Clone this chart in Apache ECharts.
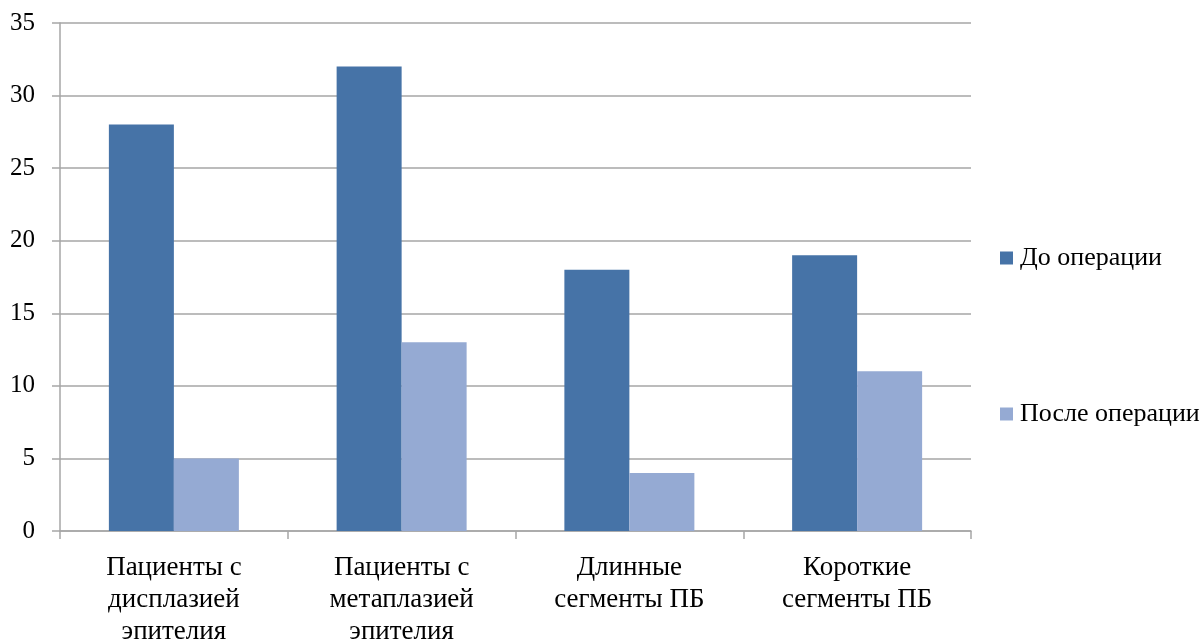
<!DOCTYPE html>
<html>
<head>
<meta charset="utf-8">
<style>
  html, body { margin: 0; padding: 0; background: #ffffff; }
  #chart { width: 1202px; height: 642px; }
</style>
<script src="https://cdn.jsdelivr.net/npm/echarts@6/dist/echarts.min.js"></script>
</head>
<body>
<div id="chart"></div>
<script>
// Chart data
const categories = [
  'Пациенты с\nдисплазией\nэпителия',
  'Пациенты с\nметаплазией\nэпителия',
  'Длинные\nсегменты ПБ',
  'Короткие\nсегменты ПБ'
];
const seriesNames = ['До операции', 'После операции'];
const beforeValues = [28, 32, 18, 19];
const afterValues = [5, 13, 4, 11];
const yMin = 0;
const yMax = 35;
const yStep = 5;

const FONT = '"Liberation Serif", "Times New Roman", serif';
const GRID_COLOR = '#a6a6a6';
const COLORS = ['#4673a7', '#95aad3'];

const chart = echarts.init(document.getElementById('chart'), null, { renderer: 'canvas' });

chart.setOption({
  animation: false,
  backgroundColor: '#ffffff',
  textStyle: { fontFamily: FONT },
  grid: {
    left: 60, right: 231, top: 23, bottom: 111,
    containLabel: false,
    outerBoundsMode: 'none'
  },
  legend: {
    orient: 'vertical',
    left: 995,
    top: 240,
    itemWidth: 13,
    itemHeight: 13,
    itemGap: 130,
    icon: 'rect',
    data: seriesNames,
    textStyle: { fontFamily: FONT, fontSize: 26, color: '#000000', padding: [0, 0, 0, 2] }
  },
  xAxis: {
    type: 'category',
    data: categories,
    boundaryGap: true,
    axisLine: { show: true, lineStyle: { color: GRID_COLOR, width: 1.5 } },
    axisTick: { show: true, length: 8, alignWithLabel: false, lineStyle: { color: GRID_COLOR, width: 1.5 } },
    axisLabel: {
      margin: 21,
      fontFamily: FONT,
      fontSize: 27,
      color: '#000000',
      lineHeight: 32,
      interval: 0
    },
    splitLine: { show: false }
  },
  yAxis: {
    type: 'value',
    min: yMin,
    max: yMax,
    interval: yStep,
    axisLine: { show: true, lineStyle: { color: GRID_COLOR, width: 1.5 } },
    axisTick: { show: true, length: 8, lineStyle: { color: GRID_COLOR, width: 1.5 } },
    axisLabel: {
      margin: 25,
      fontFamily: FONT,
      fontSize: 25,
      color: '#000000'
    },
    splitLine: { show: true, lineStyle: { color: GRID_COLOR, width: 1.5 } }
  },
  series: [
    {
      name: seriesNames[0],
      type: 'bar',
      data: beforeValues,
      barWidth: 65,
      barGap: '0%',
      itemStyle: { color: COLORS[0] }
    },
    {
      name: seriesNames[1],
      type: 'bar',
      data: afterValues,
      barWidth: 65,
      barGap: '0%',
      itemStyle: { color: COLORS[1] }
    }
  ]
});
</script>
</body>
</html>
